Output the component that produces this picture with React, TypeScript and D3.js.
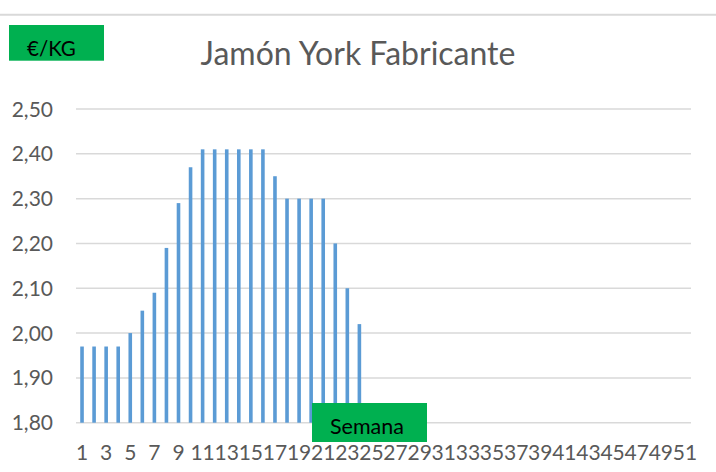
import React from "react";
import * as d3 from "d3";

// semanas 1..51 en el eje de categorías
const weeks: string[] = d3.range(1, 52).map((d) => String(d));

// precio €/kg por semana (solo hay datos hasta la semana 24)
const prices: number[] = [
  1.97, 1.97, 1.97, 1.97, 2.0, 2.05, 2.09, 2.19, 2.29, 2.37,
  2.41, 2.41, 2.41, 2.41, 2.41, 2.41, 2.35, 2.3, 2.3, 2.3,
  2.3, 2.2, 2.1, 2.02,
];

const yTicks: number[] = [1.8, 1.9, 2.0, 2.1, 2.2, 2.3, 2.4, 2.5];

const title = "Jamón York Fabricante";
const yUnit = "€/KG";
const xName = "Semana";

const W = 716;
const H = 472;
const FONT = "Lato, 'Open Sans', sans-serif";

const App: React.FC = () => {
  const x = d3.scaleBand<string>().domain(weeks).range([76, 691]);
  const y = d3.scaleLinear().domain([1.8, 2.5]).range([422.7, 109]);
  const barW = 3.6;
  const fmt = (v: number) => d3.format(".2f")(v).replace(".", ",");

  return (
    <div style={{ position: "absolute", left: 0, top: 0 }}>
      <svg width={W} height={H} style={{ display: "block", background: "#fff" }}>
        <line x1={0} x2={W} y1={14.7} y2={14.7} stroke="#d9d9d9" strokeWidth={2} />

        {/* rejilla */}
        {yTicks.map((t) => (
          <g key={t}>
            <line x1={76} x2={691} y1={y(t)} y2={y(t)} stroke="#d9d9d9" strokeWidth={1.5} />
            <text
              x={53}
              y={y(t)}
              dy="0.36em"
              textAnchor="end"
              fontFamily={FONT}
              fontSize={21}
              fill="#595959"
            >
              {fmt(t)}
            </text>
          </g>
        ))}

        {/* barras */}
        {prices.map((v, i) => {
          const cx = x(weeks[i])! + x.bandwidth() / 2;
          return (
            <rect
              key={i}
              x={cx - barW / 2}
              y={y(v)}
              width={barW}
              height={y(1.8) - y(v)}
              fill="#5b9bd5"
            />
          );
        })}

        {/* etiquetas eje x, una de cada dos */}
        {weeks.map((w, i) =>
          i % 2 === 0 ? (
            <text
              key={w}
              x={x(w)! + x.bandwidth() / 2}
              y={460}
              textAnchor="middle"
              fontFamily={FONT}
              fontSize={21}
              fill="#595959"
            >
              {w}
            </text>
          ) : null
        )}

        <text
          x={358}
          y={65}
          textAnchor="middle"
          fontFamily={FONT}
          fontSize={32}
          fill="#595959"
        >
          {title}
        </text>

        <rect x={9} y={25} width={95} height={35.7} fill="#00b050" />
        <text x={27} y={55.5} fontFamily={FONT} fontSize={20.5} fill="#000">
          {yUnit}
        </text>

        <rect x={312} y={403} width={115} height={39} fill="#00b050" />
        <text x={367} y={433.5} textAnchor="middle" fontFamily={FONT} fontSize={21.5} fill="#000">
          {xName}
        </text>
      </svg>
    </div>
  );
};

export default App;
